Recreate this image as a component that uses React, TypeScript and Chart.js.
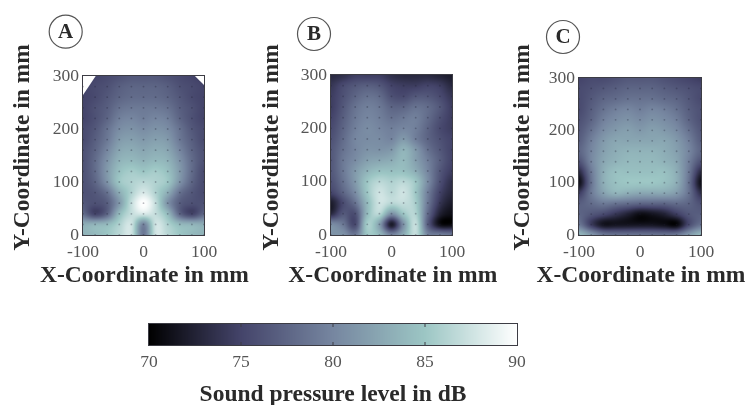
import React, { useEffect, useRef } from "react";
import { Chart, registerables } from "chart.js";

Chart.register(...registerables);

const colsX = [-100, -80, -60, -40, -20, 0, 20, 40, 60, 80, 100];
const rowsY = [300, 280, 260, 240, 220, 200, 180, 160, 140, 120, 100, 80, 60, 40, 20, 0];

const levelsA = [
  [74.5, 75, 75.5, 76, 76.5, 76.5, 76.5, 76, 75.5, 75, 74.5],
  [75, 75.5, 76, 77, 77.5, 77.5, 77.5, 77, 76, 75.5, 75],
  [75, 75.5, 76.5, 77.5, 78, 78, 78, 77.5, 76.5, 75.5, 75],
  [75, 76, 77, 78.5, 79, 79, 79, 78.5, 77, 76, 75],
  [75, 76, 77.5, 79.5, 80, 79.5, 80, 79.5, 77.5, 76, 75],
  [75.5, 76.5, 78.5, 80.5, 81, 80.5, 81, 80.5, 78.5, 76.5, 75.5],
  [75.5, 77, 79, 81.5, 82, 81.5, 82, 81.5, 79, 77, 75.5],
  [76, 77.5, 80, 82.5, 83, 82.5, 83, 82.5, 80, 77.5, 76],
  [76, 78, 81, 83.5, 84, 83.5, 84, 83.5, 81, 78, 76],
  [76, 78, 81.5, 84.5, 85.5, 85, 85.5, 84.5, 81.5, 78, 75.5],
  [76, 77.5, 81, 85, 86, 86.5, 86, 85, 81, 77.5, 75.5],
  [76, 76.5, 78.5, 83, 86, 88, 86, 83, 78.5, 76.5, 75.5],
  [76.5, 76, 77, 81.5, 87, 90, 87, 81, 77, 76, 76],
  [78, 75, 77.5, 84, 87, 88, 87, 84, 77.5, 75, 77.5],
  [83, 83.5, 84, 86, 87.5, 80, 87.5, 86, 84, 83.5, 83],
  [83.5, 84, 85, 86.5, 87.5, 79, 87.5, 86.5, 85, 84, 83.5],
];

const levelsB = [
  [73, 73.5, 74.5, 74.5, 74.5, 73.5, 73, 73, 73, 72.5, 72],
  [74, 75.5, 76.5, 77, 76.5, 75, 74.5, 74.5, 75, 74.5, 73],
  [74.5, 76, 77.5, 78.5, 78, 76, 75.5, 76.5, 76.5, 75.5, 74],
  [74.5, 76.5, 78.5, 79.5, 79, 77.5, 77.5, 78.5, 78, 76.5, 74.5],
  [75, 77, 79, 80, 79.5, 78.5, 79, 79.5, 78, 76, 74.5],
  [75.5, 77.5, 79.5, 80.5, 80, 79.5, 80, 79.5, 77.5, 75.5, 74.5],
  [76, 78, 80, 80.5, 80.5, 80, 81.5, 79.5, 77.5, 76, 75],
  [76.5, 78.5, 80, 81, 81, 81.5, 83.5, 81.5, 78.5, 76.5, 75],
  [76.5, 79, 80.5, 82, 82.5, 83, 84, 82, 79.5, 77, 75],
  [76.5, 79, 81.5, 83.5, 84.5, 84.5, 84.5, 83, 80, 76.5, 74.5],
  [76, 78.5, 81.5, 85, 86.5, 86, 86.5, 85, 80.5, 76, 73.5],
  [75, 77.5, 80.5, 85, 87.5, 86.5, 87.5, 85, 79.5, 75, 73],
  [72, 75.5, 78.5, 84, 87.5, 86.5, 87, 85.5, 79, 74, 72],
  [73, 76.5, 76, 84, 86.5, 81, 85, 86, 78, 72.5, 71],
  [80.5, 79, 75.5, 85.5, 82, 72, 81, 87, 77, 71, 70.5],
  [81, 81, 79, 85, 84, 80, 83, 87, 80, 79.5, 79],
];

const levelsC = [
  [75, 75.5, 75.5, 76, 76.5, 76.5, 76.5, 76, 75.5, 75, 74.5],
  [75.5, 76, 76.5, 77, 77.5, 77.5, 77.5, 77, 76.5, 76, 75.5],
  [75.5, 76.5, 77.5, 78, 78.5, 78.5, 78.5, 78, 77.5, 76.5, 75.5],
  [75.5, 77, 78.5, 79.5, 80, 79.5, 80, 79.5, 78.5, 77, 76],
  [76, 77.5, 79.5, 80.5, 81, 80.5, 81, 80.5, 79.5, 77.5, 76],
  [76.5, 78.5, 80.5, 81.5, 82, 81.5, 82, 81.5, 80.5, 78.5, 76.5],
  [77, 79.5, 81.5, 82.5, 82.5, 82.5, 82.5, 82.5, 81.5, 79.5, 77],
  [77.5, 80, 82, 83, 83.5, 83.5, 83.5, 83, 82, 80, 77.5],
  [76, 80, 82.5, 83.5, 84, 84, 84, 83.5, 82.5, 79.5, 76],
  [73, 79, 83, 84.5, 84.5, 84.5, 84.5, 84.5, 83, 79, 73],
  [71, 78.5, 83, 84.5, 85, 85, 85, 84.5, 83, 78.5, 71],
  [74.5, 79, 82, 83.5, 83, 82.5, 82.5, 82.5, 81.5, 78.5, 73.5],
  [77, 78, 79, 78.5, 78, 77.5, 77.5, 77.5, 78, 77.5, 76],
  [77.5, 76.5, 75.5, 74, 72.5, 71, 71.5, 72.5, 74.5, 76.5, 77],
  [79, 74.5, 71.5, 71.5, 71.5, 71.5, 71.5, 71, 70.5, 75.5, 78.5],
  [84, 81.5, 79, 78.5, 78.5, 78.5, 78.5, 78.5, 79, 81.5, 84],
];

const maskedA = [
  [[-100, 300], [-79, 300], [-100, 264]],
  [[85, 300], [100, 300], [100, 283]],
];

const colorLevels = [70, 75, 80, 85, 90];
const colorStops = [
  [0, 0, 0],
  [68, 68, 106],
  [118, 134, 160],
  [156, 198, 196],
  [255, 255, 255],
];

const xTicks = [-100, 0, 100];
const yTicks = [0, 100, 200, 300];
const colorbarTicks = [70, 75, 80, 85, 90];

const SERIF = "'Liberation Serif', serif";
const TICK_COLOR = "#555";
const TITLE_COLOR = "#2a2a2a";
const FRAME_COLOR = "#3c3c44";

function levelColor(v: number) {
  const t = Math.max(colorLevels[0], Math.min(colorLevels[colorLevels.length - 1], v));
  let i = 0;
  while (i < colorLevels.length - 2 && t > colorLevels[i + 1]) i++;
  const f = (t - colorLevels[i]) / (colorLevels[i + 1] - colorLevels[i]);
  const c = colorStops[i].map((a, k) => Math.round(a + (colorStops[i + 1][k] - a) * f));
  return `rgb(${c[0]},${c[1]},${c[2]})`;
}

function cubic(a: number, b: number, c: number, d: number, t: number) {
  return b + 0.5 * t * (c - a + t * (2 * a - 5 * b + 4 * c - d + t * (3 * (b - c) + d - a)));
}

function sample(grid: number[][], x: number, y: number) {
  const fx = Math.max(0, Math.min(colsX.length - 1.0001, (x - colsX[0]) / (colsX[1] - colsX[0])));
  const fy = Math.max(0, Math.min(rowsY.length - 1.0001, (y - rowsY[0]) / (rowsY[1] - rowsY[0])));
  const ix = Math.floor(fx);
  const iy = Math.floor(fy);
  const at = (r: number, c: number) =>
    grid[Math.max(0, Math.min(rowsY.length - 1, r))][Math.max(0, Math.min(colsX.length - 1, c))];
  const row = (r: number) => cubic(at(r, ix - 1), at(r, ix), at(r, ix + 1), at(r, ix + 2), fx - ix);
  return cubic(row(iy - 1), row(iy), row(iy + 1), row(iy + 2), fy - iy);
}

const heatPlugin = {
  id: "heat",
  beforeDatasetsDraw(chart: any, _a: any, o: any) {
    const { ctx, chartArea: ca, scales } = chart;
    ctx.save();
    if (o.grid) {
      for (let py = Math.floor(ca.top); py < ca.bottom; py++) {
        const vy = scales.y.getValueForPixel(py + 0.5);
        for (let px = Math.floor(ca.left); px < ca.right; px++) {
          ctx.fillStyle = levelColor(sample(o.grid, scales.x.getValueForPixel(px + 0.5), vy));
          ctx.fillRect(px, py, 1, 1);
        }
      }
    } else {
      for (let px = Math.floor(ca.left); px < ca.right; px++) {
        ctx.fillStyle = levelColor(scales.x.getValueForPixel(px + 0.5));
        ctx.fillRect(px, ca.top, 1, ca.bottom - ca.top);
      }
      ctx.strokeStyle = FRAME_COLOR;
      ctx.lineWidth = 1;
      for (const t of colorbarTicks.slice(1, -1)) {
        const p = scales.x.getPixelForValue(t);
        ctx.beginPath();
        ctx.moveTo(p, ca.top);
        ctx.lineTo(p, ca.top + 3);
        ctx.moveTo(p, ca.bottom);
        ctx.lineTo(p, ca.bottom - 3);
        ctx.stroke();
      }
    }
    ctx.fillStyle = "#fff";
    for (const tri of o.masked || []) {
      ctx.beginPath();
      tri.forEach(([x, y]: number[], i: number) => {
        const px = scales.x.getPixelForValue(x);
        const py = scales.y.getPixelForValue(y);
        if (i) ctx.lineTo(px, py);
        else ctx.moveTo(px, py);
      });
      ctx.closePath();
      ctx.fill();
    }
    ctx.restore();
  },
  afterDraw(chart: any, _a: any, o: any) {
    const { ctx, chartArea: ca } = chart;
    ctx.save();
    ctx.strokeStyle = FRAME_COLOR;
    ctx.lineWidth = 1;
    ctx.strokeRect(ca.left - 0.5, ca.top - 0.5, ca.right - ca.left + 1, ca.bottom - ca.top + 1);
    if (o.letter) {
      ctx.beginPath();
      ctx.arc(o.letterX, o.letterY, 16.5, 0, Math.PI * 2);
      ctx.fillStyle = "#fff";
      ctx.fill();
      ctx.strokeStyle = "#555";
      ctx.lineWidth = 1.2;
      ctx.stroke();
      ctx.fillStyle = "#2a2a2a";
      ctx.font = `bold 21px ${SERIF}`;
      ctx.textAlign = "center";
      ctx.textBaseline = "middle";
      ctx.fillText(o.letter, o.letterX, o.letterY + 1);
    }
    ctx.fillStyle = TITLE_COLOR;
    ctx.font = `bold 23.5px ${SERIF}`;
    ctx.textAlign = "center";
    ctx.textBaseline = "middle";
    if (o.xTitle) {
      ctx.fillText(o.xTitle, o.xTitleX, o.xTitleY);
    }
    if (o.yTitle) {
      ctx.translate(o.yTitleX, o.yTitleY);
      ctx.rotate(-Math.PI / 2);
      ctx.fillText(o.yTitle, 0, 0);
    }
    ctx.restore();
  },
};

function useChart(make: (c: HTMLCanvasElement) => Chart) {
  const ref = useRef<HTMLCanvasElement>(null);
  useEffect(() => {
    const chart = make(ref.current!);
    return () => chart.destroy();
  }, []);
  return ref;
}

const tickFont = { family: SERIF, size: 17.5 };
const titleFont = { family: SERIF, size: 23.5, weight: "bold" as const };

function Panel({ grid, masked, letter, canvasLeft, canvasWidth, plotLeft, plotRight, plotTop, letterX, letterY, yTitleX, xTitleX }: any) {
  const canvasHeight = 290;
  const plotBottom = 235;
  const dots = colsX.flatMap((x) => rowsY.slice(1).map((y) => ({ x, y })));
  const ref = useChart(
    (c) =>
      new Chart(c, {
        type: "scatter",
        data: {
          datasets: [
            { data: dots, pointRadius: 0.9, borderWidth: 0, pointHoverRadius: 0, backgroundColor: "rgba(30,30,50,0.3)" },
          ],
        },
        plugins: [heatPlugin],
        options: {
          animation: false,
          responsive: false,
          layout: {
            padding: { top: plotTop, right: canvasWidth - (plotRight - canvasLeft), left: 0, bottom: 0 },
          },
          plugins: {
            legend: { display: false },
            tooltip: { enabled: false },
            heat: {
              grid,
              masked,
              letter,
              letterX: letterX - canvasLeft,
              letterY,
              xTitle: "X-Coordinate in mm",
              xTitleX: xTitleX - canvasLeft,
              xTitleY: 276,
              yTitle: "Y-Coordinate in mm",
              yTitleX: yTitleX - canvasLeft,
              yTitleY: 147.5,
            },
          } as any,
          scales: {
            x: {
              type: "linear",
              min: -100,
              max: 100,
              afterFit: (s: any) => { s.height = canvasHeight - plotBottom; },
              afterBuildTicks: (s: any) => { s.ticks = xTicks.map((value) => ({ value })); },
              grid: { display: false, drawTicks: false },
              border: { display: false },
              ticks: { color: TICK_COLOR, font: tickFont, padding: 7, autoSkip: false, maxRotation: 0, callback: (v: any) => String(v) },
            },
            y: {
              type: "linear",
              min: 0,
              max: 300,
              afterFit: (s: any) => { s.width = plotLeft - canvasLeft; },
              afterBuildTicks: (s: any) => { s.ticks = yTicks.map((value) => ({ value })); },
              grid: { display: false, drawTicks: false },
              border: { display: false },
              ticks: { color: TICK_COLOR, font: tickFont, padding: 4, autoSkip: false, callback: (v: any) => String(v) },
            },
          },
        } as any,
      })
  );
  return (
    <canvas
      ref={ref}
      width={canvasWidth}
      height={canvasHeight}
      style={{ position: "absolute", left: canvasLeft, top: 0, width: canvasWidth, height: canvasHeight }}
    />
  );
}

function Colorbar() {
  const left = 120;
  const width = 430;
  const top = 310;
  const height = 99;
  const ref = useChart(
    (c) =>
      new Chart(c, {
        type: "scatter",
        data: { datasets: [{ data: [], pointRadius: 0 }] },
        plugins: [heatPlugin],
        options: {
          animation: false,
          responsive: false,
          layout: { padding: { left: 149 - left, right: width - (517 - left), top: 324 - top, bottom: 0 } },
          plugins: { legend: { display: false }, tooltip: { enabled: false }, heat: {} } as any,
          scales: {
            x: {
              type: "linear",
              min: 70,
              max: 90,
              afterFit: (s: any) => { s.height = top + height - 345; },
              afterBuildTicks: (s: any) => { s.ticks = colorbarTicks.map((value) => ({ value })); },
              grid: { display: false, drawTicks: false },
              border: { display: false },
              ticks: { color: TICK_COLOR, font: tickFont, padding: 7, autoSkip: false, maxRotation: 0, callback: (v: any) => String(v) },
              title: { display: true, text: "Sound pressure level in dB", color: TITLE_COLOR, font: titleFont, padding: { top: 0, bottom: 0 } },
            },
            y: { type: "linear", display: false, min: 0, max: 1 },
          },
        } as any,
      })
  );
  return (
    <canvas
      ref={ref}
      width={width}
      height={height}
      style={{ position: "absolute", left, top, width, height }}
    />
  );
}

export default function App() {
  return (
    <div
      style={{
        position: "absolute",
        left: 0,
        top: 0,
        width: 747,
        height: 405,
        overflow: "hidden",
        background: "#fff",
        filter: "blur(0.65px)",
      }}
    >
      <Panel grid={levelsA} masked={maskedA} letter="A" canvasLeft={0} canvasWidth={250} plotLeft={83} plotRight={204} plotTop={76} letterX={65.7} letterY={31.7} yTitleX={23} xTitleX={144.5} />
      <Panel grid={levelsB} letter="B" canvasLeft={250} canvasWidth={250} plotLeft={331} plotRight={452} plotTop={75} letterX={314} letterY={34} yTitleX={272} xTitleX={392.8} />
      <Panel grid={levelsC} letter="C" canvasLeft={500} canvasWidth={247} plotLeft={579} plotRight={701} plotTop={78} letterX={563} letterY={37} yTitleX={523} xTitleX={641} />
      <Colorbar />
    </div>
  );
}
